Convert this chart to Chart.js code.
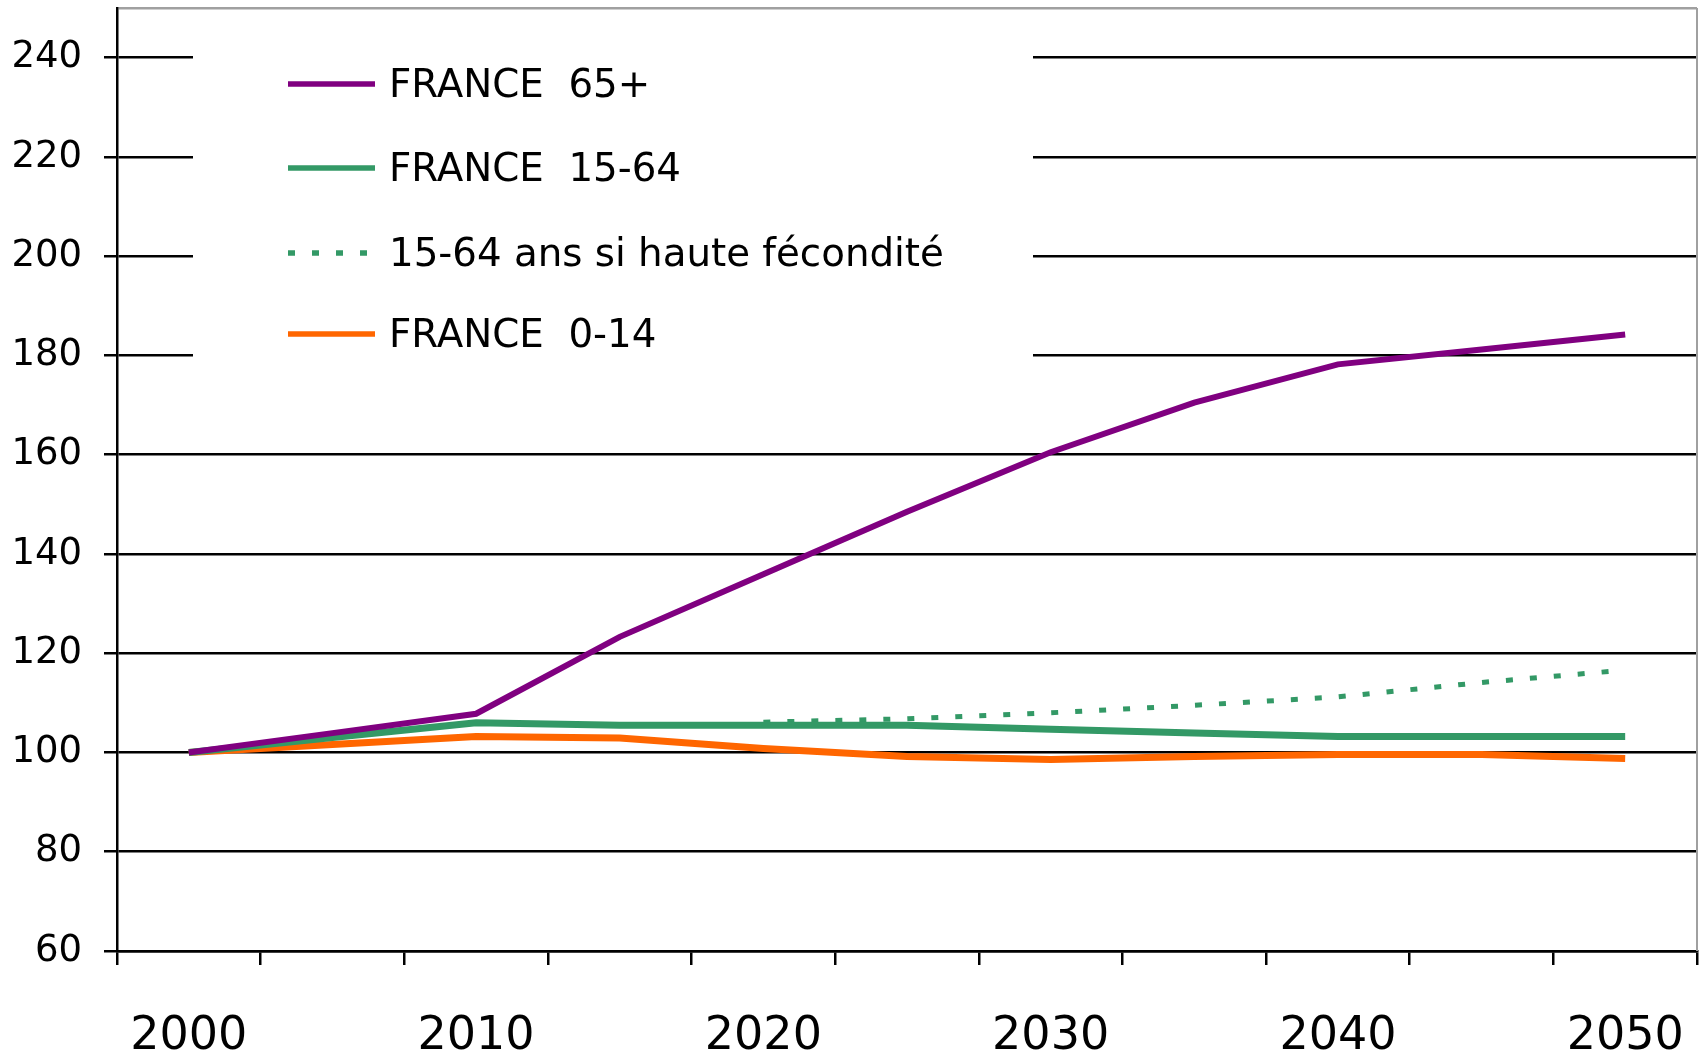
<!DOCTYPE html>
<html><head><meta charset="utf-8">
<script src="https://cdn.jsdelivr.net/npm/chart.js@4/dist/chart.umd.min.js"></script>
<style>html,body{margin:0;padding:0;background:#fff;overflow:hidden;}</style>
</head><body>
<canvas id="c" width="1705" height="1059" style="width:1705px;height:1059px;display:block"></canvas>
<script>
// ---- data ----
const categories = ['2000','2005','2010','2015','2020','2025','2030','2035','2040','2045','2050'];
const tickLabels = ['2000','','2010','','2020','','2030','','2040','','2050'];
const seriesNames = ['FRANCE  65+','FRANCE  15-64','15-64 ans si haute fécondité','FRANCE  0-14'];
const france65 = [100, 103.9, 107.8, 123.3, 135.9, 148.5, 160.5, 170.5, 178.2, 181.2, 184.2];
const france1564 = [100, 103.0, 106.0, 105.5, 105.5, 105.5, 104.7, 103.9, 103.2, 103.2, 103.2];
const france1564High = [null, null, null, null, 106.1, 106.8, 108.0, 109.5, 111.2, 114.1, 116.6];
const france014 = [100, 101.6, 103.2, 102.9, 100.8, 99.2, 98.6, 99.2, 99.6, 99.6, 98.8];
const yMin = 60, yMax = 250, yStep = 20;

const FONT = "'DejaVu Sans', sans-serif";

const legendPlugin = {
  id: 'customLegend',
  beforeDatasetsDraw(chart) {
    const ctx = chart.ctx, a = chart.chartArea;
    ctx.save();
    ctx.fillStyle = '#fff';
    ctx.fillRect(193, a.top + 3, 840, 380);
    ctx.strokeStyle = '#a0a0a0';
    ctx.lineWidth = 2;
    ctx.beginPath();
    ctx.moveTo(a.right, a.top);
    ctx.lineTo(a.right, a.bottom);
    ctx.stroke();
    ctx.restore();
  },
  afterDatasetsDraw(chart) {
    const ctx = chart.ctx;
    ctx.save();
    ctx.font = '40px ' + FONT;
    let maxW = 0;
    chart.data.datasets.forEach(d => { maxW = Math.max(maxW, ctx.measureText(d.label).width); });
    const size = 40 * 555 / maxW;
    ctx.font = size + 'px ' + FONT;
    const rows = [84, 168, 253, 334];
    chart.data.datasets.forEach((d, i) => {
      const y = rows[i];
      ctx.strokeStyle = d.borderColor;
      ctx.lineWidth = 5.5;
      ctx.lineCap = 'butt';
      ctx.setLineDash(d.borderDash || []);
      ctx.beginPath();
      ctx.moveTo(288, y);
      ctx.lineTo(375, y);
      ctx.stroke();
      ctx.setLineDash([]);
      ctx.fillStyle = '#000';
      ctx.textBaseline = 'middle';
      ctx.textAlign = 'left';
      ctx.fillText(d.label, 389, y + 3);
    });
    ctx.restore();
  }
};

new Chart(document.getElementById('c'), {
  type: 'line',
  data: {
    labels: categories,
    datasets: [
      { label: seriesNames[0], data: france65, borderColor: '#800080', borderWidth: 6, pointRadius: 0, tension: 0, fill: false },
      { label: seriesNames[1], data: france1564, borderColor: '#339966', borderWidth: 7, pointRadius: 0, tension: 0, fill: false },
      { label: seriesNames[2], data: france1564High, borderColor: '#339966', borderWidth: 5, borderDash: [7, 17], borderCapStyle: 'butt', pointRadius: 0, tension: 0, fill: false, spanGaps: false },
      { label: seriesNames[3], data: france014, borderColor: '#FF6600', borderWidth: 7, pointRadius: 0, tension: 0, fill: false }
    ]
  },
  options: {
    responsive: false,
    animation: false,
    devicePixelRatio: 1,
    layout: { padding: { top: 8, right: 8, left: 0, bottom: 0 } },
    plugins: { legend: { display: false }, tooltip: { enabled: false } },
    scales: {
      x: {
        type: 'category',
        offset: true,
        grid: { offset: true, drawOnChartArea: false, drawTicks: true, tickLength: 14, color: '#000', lineWidth: 2.5 },
        border: { color: '#000', width: 2.5 },
        ticks: { autoSkip: false, maxRotation: 0, minRotation: 0, color: '#000', font: { family: FONT, size: 46 }, padding: 44,
          callback: (v, i) => tickLabels[i] },
        afterFit: s => { s.height = 108; s.paddingLeft = 0; s.paddingRight = 0; }
      },
      y: {
        min: yMin, max: yMax,
        ticks: { stepSize: yStep, color: '#000', font: { family: FONT, size: 37 }, padding: 22,
          callback: v => (v % 20 === 0 ? String(v) : '') },
        grid: {
          color: c => (c.tick && c.tick.value === yMax ? '#a0a0a0' : '#000'),
          tickColor: c => (c.tick && c.tick.value === yMax ? 'rgba(0,0,0,0)' : '#000'),
          lineWidth: 2.5, tickLength: 13
        },
        border: { color: '#000', width: 2.5 },
        afterFit: s => { s.width = 117; s.paddingTop = 0; s.paddingBottom = 0; }
      }
    }
  },
  plugins: [legendPlugin]
});
</script>
</body></html>
